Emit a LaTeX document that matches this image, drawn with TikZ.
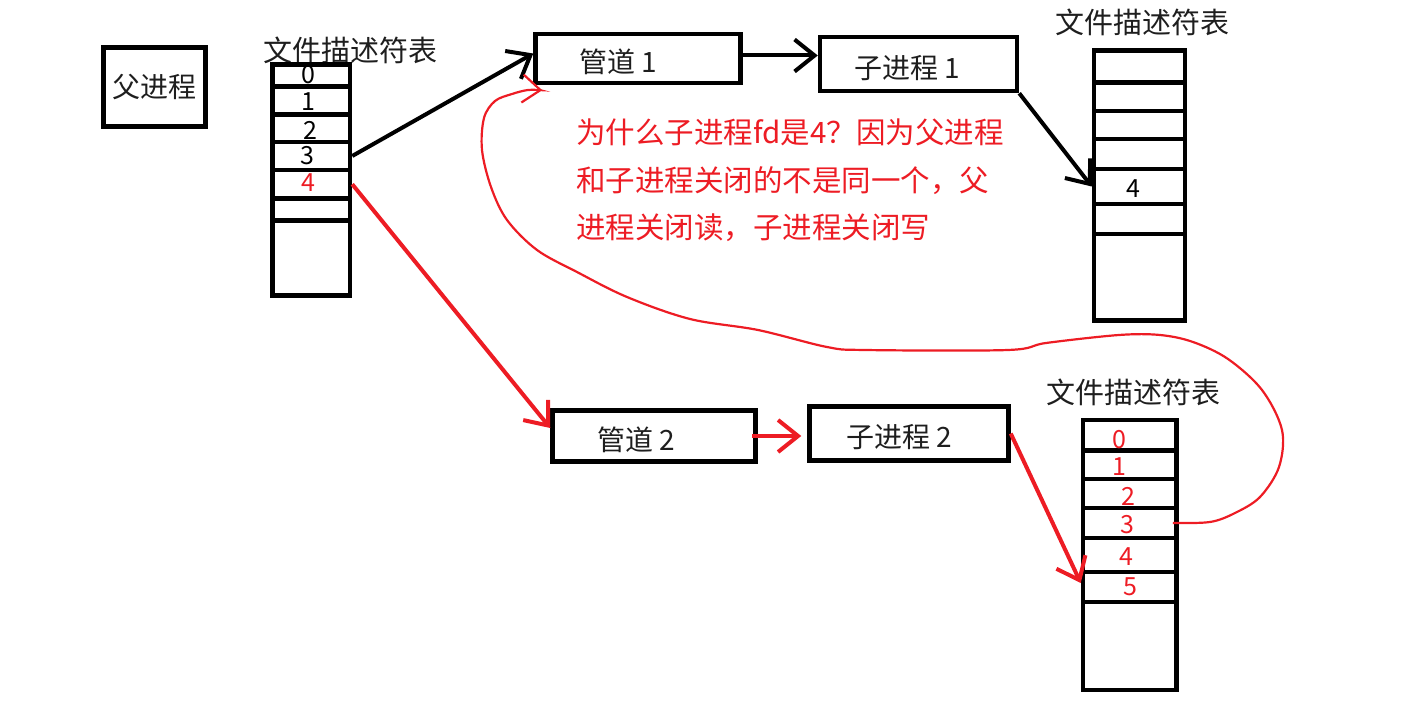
\documentclass[tikz,border=0pt]{standalone}
\usepackage{fontspec}
\setmainfont{Noto Sans CJK SC}
\usetikzlibrary{arrows.meta}
\definecolor{pred}{RGB}{237,28,36}
\definecolor{ink}{RGB}{0,0,0}
\definecolor{txt}{RGB}{30,30,30}
\tikzset{
  box/.style={draw=ink, line width=4.5pt, inner sep=0pt},
  cell/.style={draw=ink, line width=4.5pt, inner sep=0pt},
  lbl/.style={font=\fontsize{28}{32}\selectfont, text=txt, inner sep=0pt},
  tlbl/.style={font=\fontsize{29}{32}\selectfont, text=txt, inner sep=0pt},
  num/.style={font=\fontsize{25}{30}\selectfont, inner sep=0pt},
  note/.style={font=\fontsize{29.5}{34}\selectfont, text=pred, inner sep=0pt, anchor=west},
  blk/.style={draw=ink, line width=4pt, -{Straight Barb[length=20pt,width=32pt]}},
  rd/.style={draw=pred, line width=4pt, -{Straight Barb[length=20pt,width=32pt]}},
  curve/.style={draw=pred, line width=2.2pt, -{Straight Barb[length=18pt,width=28pt]}}
}
\newcommand\tablecells[4]{%
  \foreach \a/\b [count=\i from 0] in {#4} {
    \node[cell, minimum width={#3-#2}, minimum height={\b-\a}] (#1\i) at ({(#2+#3)/2},{(\a+\b)/2}) {};
  }%
}
\begin{document}
\begin{tikzpicture}[x=1pt, y=-1pt]
\useasboundingbox (0,0) rectangle (1422,703);

% parent process
\node[box, minimum width=102, minimum height=79, lbl] (F) at (154.5,87) {父进程};

% left table
\node[tlbl] (LT) at (350,50) {文件描述符表};
\tablecells{L}{272.5}{350}{64.5/86.5, 86.5/114.5, 114.5/142, 142/170, 170/198.5, 198.5/220.5, 220.5/295.5}
\node[num] (l0) at (308,75) {0};
\node[num] (l1) at (308,102) {1};
\node[num] (l2) at (310,130) {2};
\node[num] (l3) at (307,156) {3};
\node[num, text=pred] (l4) at (308,183) {4};

% pipes and children
\node[box, minimum width=205, minimum height=49] (P1) at (638,58.5) {};
\node[lbl] (P1t) at (618,62) {管道 1};
\node[box, minimum width=197, minimum height=54] (C1) at (918.5,64) {};
\node[lbl] (C1t) at (907,68) {子进程 1};
\node[box, minimum width=203, minimum height=51] (P2) at (654,436) {};
\node[lbl] (P2t) at (636,440) {管道 2};
\node[box, minimum width=199, minimum height=54] (C2) at (909,433.5) {};
\node[lbl] (C2t) at (899,437) {子进程 2};

% right top table
\node[tlbl] (RT) at (1142,22) {文件描述符表};
\tablecells{R}{1094}{1185}{50.5/82.5, 82.5/111, 111/139, 139/169, 169/204, 204/234, 234/320.5}
\node[num] (r4) at (1133,189) {4};

% bottom right table
\node[tlbl] (BT) at (1133,392) {文件描述符表};
\tablecells{B}{1083}{1176.5}{420/450.5, 450.5/479, 479/508, 508/538, 538/572, 572/602, 602/690}
\node[num, text=pred] (b0) at (1119,440) {0};
\node[num, text=pred] (b1) at (1119,467) {1};
\node[num, text=pred] (b2) at (1128,496) {2};
\node[num, text=pred] (b3) at (1127,525) {3};
\node[num, text=pred] (b4) at (1126,557) {4};
\node[num, text=pred] (b5) at (1130,587) {5};

% note
\node[note] (n1) at (576,132) {为什么子进程fd是4？因为父进程};
\node[note] (n2) at (576,181) {和子进程关闭的不是同一个，父};
\node[note] (n3) at (576,228) {进程关闭读，子进程关闭写};

% connectors
\draw[blk] (L3.east) -- ([yshift=5pt]P1.west);
\draw[blk] ([yshift=3pt]P1.east) -- ([yshift=3pt]P1.east -| C1.west);
\draw[blk] (C1.south east) -- (R4.west);
\draw[rd] (L4.east) -- ([yshift=8pt]P2.west);
\draw[rd] ([xshift=-6pt]P2.east) -- ([xshift=-6pt]P2.east -| C2.west);
\draw[rd] (C2.east) -- ([yshift=4pt]B5.west);

\coordinate (cs) at ([xshift=-6pt]B3.east);
\coordinate (ce) at ([shift={(9,5)}]P1.south west);
\draw[curve] plot[smooth, tension=0.55] coordinates {
  (cs) (1210,522) (1235,513) (1260,497) (1279,467) (1282,430) (1262,390)
  (1228,359) (1193,342) (1160,335) (1119,335) (1046,343) (1008,350)
  (865,350) (827,347) (758,330) (690,319) (627,297) (577,272) (537,250)
  (507,220) (491,187) (482,150) (484,118) (495,101) (512,94) (528,90) (ce)};
\end{tikzpicture}
\end{document}
